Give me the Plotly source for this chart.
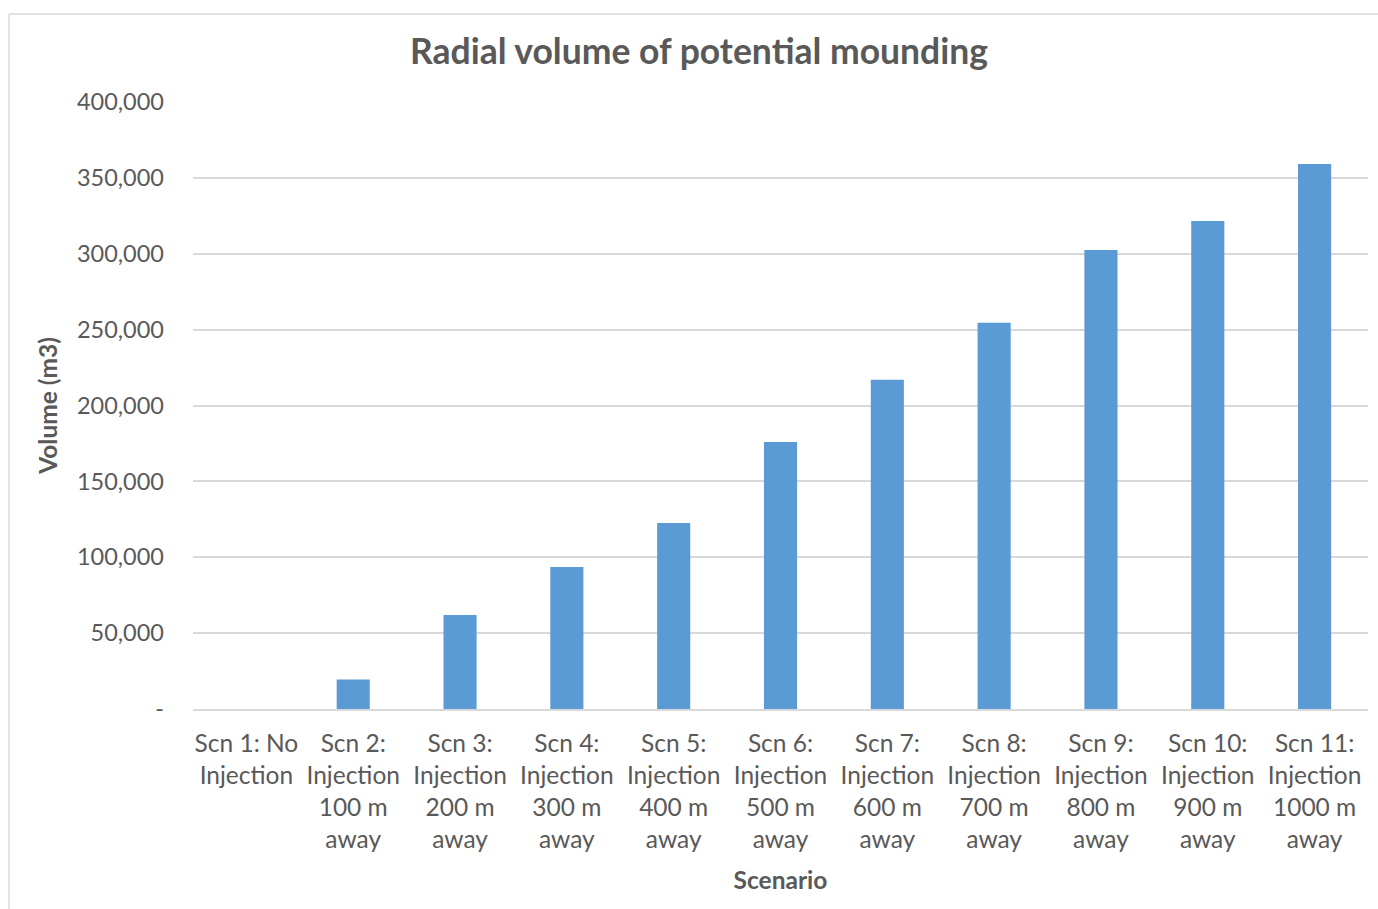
import plotly.graph_objects as go

# Scenario labels (wrapped as on the category axis)
scenarios = [
    "Scn 1: No<br>Injection",
    "Scn 2:<br>Injection<br>100 m<br>away",
    "Scn 3:<br>Injection<br>200 m<br>away",
    "Scn 4:<br>Injection<br>300 m<br>away",
    "Scn 5:<br>Injection<br>400 m<br>away",
    "Scn 6:<br>Injection<br>500 m<br>away",
    "Scn 7:<br>Injection<br>600 m<br>away",
    "Scn 8:<br>Injection<br>700 m<br>away",
    "Scn 9:<br>Injection<br>800 m<br>away",
    "Scn 10:<br>Injection<br>900 m<br>away",
    "Scn 11:<br>Injection<br>1000 m<br>away",
]
# Radial volume of potential mounding (m3)
volumes = [0, 19400, 62000, 93500, 122500, 176000, 217000, 254500, 302500, 321500, 359200]

y_tickvals = [0, 50000, 100000, 150000, 200000, 250000, 300000, 350000, 400000]
y_ticktext = ["-", "50,000", "100,000", "150,000", "200,000", "250,000", "300,000", "350,000", "400,000"]

W, H = 1378, 909
L, R, T, B = 193, 10, 102, 200
FONT = "Lato"
GREY = "#595959"

fig = go.Figure(
    go.Bar(
        x=scenarios,
        y=volumes,
        marker=dict(color="#5b9bd5", line=dict(width=0)),
    )
)

# paper coordinates for the outer chart frame
pw, ph = W - L - R, H - T - B
def px_x(x):
    return (x - L) / pw
def px_y(y):
    return (H - B - y) / ph

fig.add_shape(type="line", xref="paper", yref="paper",
              x0=px_x(9), x1=px_x(9), y0=px_y(14), y1=px_y(912),
              line=dict(color="#d9d9d9", width=1.5))
fig.add_shape(type="line", xref="paper", yref="paper",
              x0=px_x(9), x1=px_x(1382), y0=px_y(14), y1=px_y(14),
              line=dict(color="#d9d9d9", width=1.5))

fig.update_layout(
    width=W, height=H,
    margin=dict(l=L, r=R, t=T, b=B),
    paper_bgcolor="white", plot_bgcolor="white",
    font=dict(family=FONT, color=GREY, size=24),
    bargap=0.69,
    showlegend=False,
    title=dict(
        text="<b>Radial volume of potential mounding</b>",
        x=699 / W, xanchor="center",
        y=1 - 52 / H, yanchor="middle",
        font=dict(family=FONT, size=35.5, color=GREY),
    ),
    xaxis=dict(
        showgrid=False,
        showline=True, linecolor="#d9d9d9", linewidth=1.5,
        ticks="", tickfont=dict(size=24.5, color=GREY),
        ticklabelstandoff=12,
        title=dict(text="<b>Scenario</b>", font=dict(size=24.5, color=GREY), standoff=20),
    ),
    yaxis=dict(
        range=[0, 400000],
        tickvals=y_tickvals, ticktext=y_ticktext,
        showgrid=True, gridcolor="#d9d9d9", gridwidth=1.5,
        zeroline=False, showline=False, ticks="",
        tickfont=dict(size=23.5, color=GREY),
        ticklabelstandoff=28,
        title=dict(text="<b>Volume (m3)</b>", font=dict(size=24.5, color=GREY), standoff=12),
    ),
)

fig.write_html("out.html")
